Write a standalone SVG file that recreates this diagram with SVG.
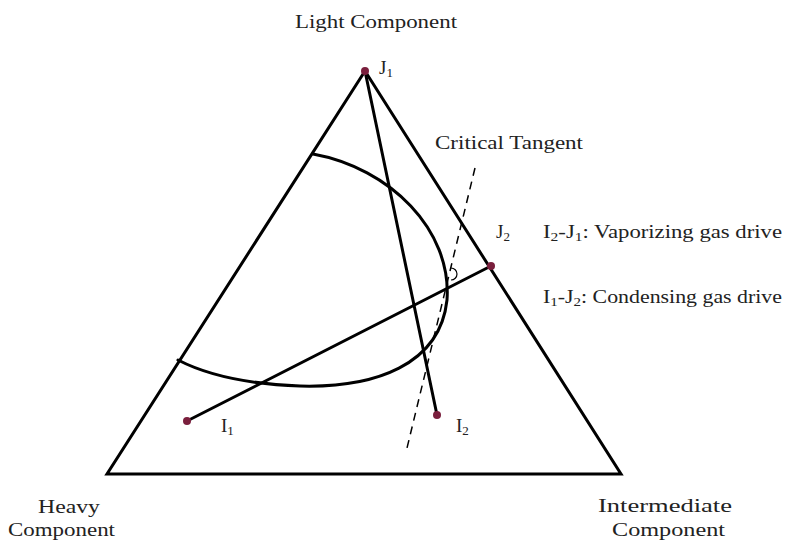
<svg xmlns="http://www.w3.org/2000/svg" width="789" height="542" viewBox="0 0 789 542">
<style>
.t{font-family:"Liberation Serif","Times New Roman",serif;font-size:19px;fill:#222}
.s{font-size:13px}
.ln{stroke:#000;stroke-width:3;fill:none;stroke-linecap:round;stroke-linejoin:miter}
.dot{fill:#7a1f3d}
</style>
<rect width="789" height="542" fill="#fff"/>
<g id="triangle"><path class="ln" d="M365,71 L621,474 L107,474 Z"/></g>
<g id="binodal"><path class="ln" d="M313,154 C390,168 452,230 447,300 C440,365 375,388 300,386 C245,384 205,374 178,360"/></g>
<g id="connectors">
<line class="ln" x1="365" y1="71" x2="437" y2="415"/>
<line class="ln" x1="187" y1="421" x2="491" y2="266"/>
<line x1="475" y1="168" x2="407" y2="448" stroke="#000" stroke-width="1.5" stroke-dasharray="8,6"/>
<path d="M451,268 A6,6 0 0 1 451,280" stroke="#000" stroke-width="1.2" fill="none"/>
</g>
<g id="J1"><circle class="dot" cx="365" cy="71" r="4"/><text class="t" x="379" y="74">J<tspan class="s" dy="3">1</tspan></text></g>
<g id="J2"><circle class="dot" cx="491" cy="266" r="4"/><text class="t" x="496" y="238">J<tspan class="s" dy="3">2</tspan></text></g>
<g id="I1"><circle class="dot" cx="187" cy="421" r="4"/><text class="t" x="221" y="432">I<tspan class="s" dy="3">1</tspan></text></g>
<g id="I2"><circle class="dot" cx="437" cy="415" r="4"/><text class="t" x="456" y="432">I<tspan class="s" dy="3">2</tspan></text></g>
<g id="labels">
<text class="t" x="295" y="28" font-size="22" textLength="162" lengthAdjust="spacingAndGlyphs">Light Component</text>
<text class="t" x="435" y="149" font-size="20" textLength="148" lengthAdjust="spacingAndGlyphs">Critical Tangent</text>
<text class="t" x="543" y="238" textLength="239" lengthAdjust="spacingAndGlyphs">I<tspan class="s" dy="3">2</tspan><tspan dy="-3">-J</tspan><tspan class="s" dy="3">1</tspan><tspan dy="-3">: Vaporizing gas drive</tspan></text>
<text class="t" x="543" y="303" textLength="239" lengthAdjust="spacingAndGlyphs">I<tspan class="s" dy="3">1</tspan><tspan dy="-3">-J</tspan><tspan class="s" dy="3">2</tspan><tspan dy="-3">: Condensing gas drive</tspan></text>
<text class="t" x="38" y="513" font-size="20" textLength="62" lengthAdjust="spacingAndGlyphs">Heavy</text>
<text class="t" x="8" y="536" font-size="20" textLength="107" lengthAdjust="spacingAndGlyphs">Component</text>
<text class="t" x="598" y="512" font-size="20" textLength="134" lengthAdjust="spacingAndGlyphs">Intermediate</text>
<text class="t" x="612" y="536" font-size="20" textLength="113" lengthAdjust="spacingAndGlyphs">Component</text>
</g>
</svg>
